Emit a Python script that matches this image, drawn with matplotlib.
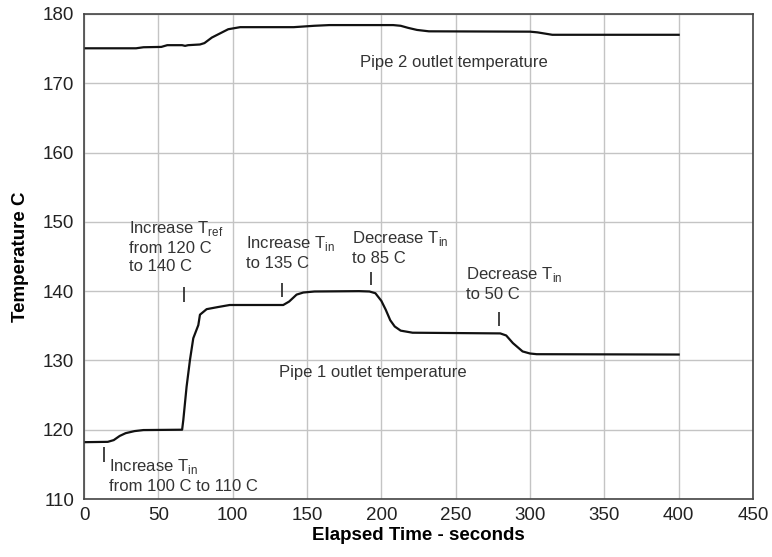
import matplotlib
matplotlib.use('Agg')
import matplotlib.pyplot as plt

plt.rcParams['font.family'] = ['Liberation Sans', 'DejaVu Sans']
plt.rcParams['mathtext.fontset'] = 'custom'
plt.rcParams['mathtext.rm'] = 'Liberation Sans'

# pipe 2 outlet temperature
t_pipe2 = [0, 35, 40, 52, 56, 66, 68, 70, 78, 81, 86, 91.5, 97, 105, 141, 155, 165,
           208, 213, 218, 224, 232, 300, 305, 315, 400]
temp_pipe2 = [175.05, 175.05, 175.2, 175.25, 175.5, 175.5, 175.4, 175.5, 175.6, 175.8,
              176.6, 177.2, 177.8, 178.1, 178.1, 178.3, 178.4,
              178.4, 178.3, 178.0, 177.7, 177.5, 177.45, 177.35, 177.0, 177.0]

# pipe 1 outlet temperature
t_pipe1 = [0, 16, 20, 24, 28, 34, 40, 66, 66.8, 69, 71.3, 73.5, 76.9, 78, 82.5, 90, 98,
           134, 138, 143, 147.5, 155, 185, 192, 196, 200, 203, 206, 209, 213, 221,
           280, 284, 288.5, 295, 300, 304.5, 400]
temp_pipe1 = [118.2, 118.25, 118.5, 119.1, 119.5, 119.8, 119.95, 120.0, 121.4, 126.2,
              130.1, 133.2, 135.1, 136.6, 137.4, 137.7, 138.0,
              138.0, 138.5, 139.5, 139.8, 139.95, 140.0, 139.95, 139.7, 138.6, 137.3,
              135.8, 134.9, 134.3, 134.0,
              133.9, 133.6, 132.5, 131.3, 131.0, 130.9, 130.85]

# event markers: time, bottom, top of the small vertical tick
event_t = [13.4, 67.3, 133.4, 193, 279]
event_lo = [115.4, 138.5, 139.2, 140.9, 135.0]
event_hi = [117.5, 140.6, 141.2, 142.7, 137.0]

event_text = [
    'Increase T$_{\\rm in}$\nfrom 100 C to 110 C',
    'Increase T$_{\\rm ref}$\nfrom 120 C\nto 140 C',
    'Increase T$_{\\rm in}$\nto 135 C',
    'Decrease T$_{\\rm in}$\nto 85 C',
    'Decrease T$_{\\rm in}$\nto 50 C',
]
text_x = [16.8, 30.3, 108.7, 180, 257]
text_y = [113.4, 146.4, 145.6, 146.3, 141.1]

fig = plt.figure(figsize=(7.72, 5.57), dpi=100)
ax = fig.add_axes([84/772, 1-499/557, (753-84)/772, (499-14)/557])

ax.plot(t_pipe2, temp_pipe2, color='#111111', lw=1.6)
ax.plot(t_pipe1, temp_pipe1, color='#111111', lw=1.6)
ax.vlines(event_t, event_lo, event_hi, color='#222222', lw=1.2)

for s, x, y in zip(event_text, text_x, text_y):
    ax.text(x, y, s, fontsize=12, color='#333333', ha='left', va='center', linespacing=1.25)

ax.text(185.6, 173.0, 'Pipe 2 outlet temperature', fontsize=12, color='#333333', va='center')
ax.text(131.4, 128.2, 'Pipe 1 outlet temperature', fontsize=12, color='#333333', va='center')

ax.set_xlim(0, 450)
ax.set_ylim(110, 180)
ax.set_xticks(range(0, 451, 50))
ax.set_yticks(range(110, 181, 10))
ax.grid(True, color='#c4c4c4', lw=1)
ax.set_axisbelow(True)
ax.tick_params(length=0, labelsize=13.5, colors='#222222')
ax.tick_params(axis='y', pad=7)
ax.tick_params(axis='x', pad=6)
for sp in ax.spines.values():
    sp.set_color('#444444')
    sp.set_linewidth(1.2)

ax.set_xlabel('Elapsed Time - seconds', fontsize=13.5, fontweight='bold', labelpad=2)
ax.set_ylabel('Temperature C', fontsize=13.5, fontweight='bold', labelpad=10)

fig.savefig('out.png', dpi=100)
